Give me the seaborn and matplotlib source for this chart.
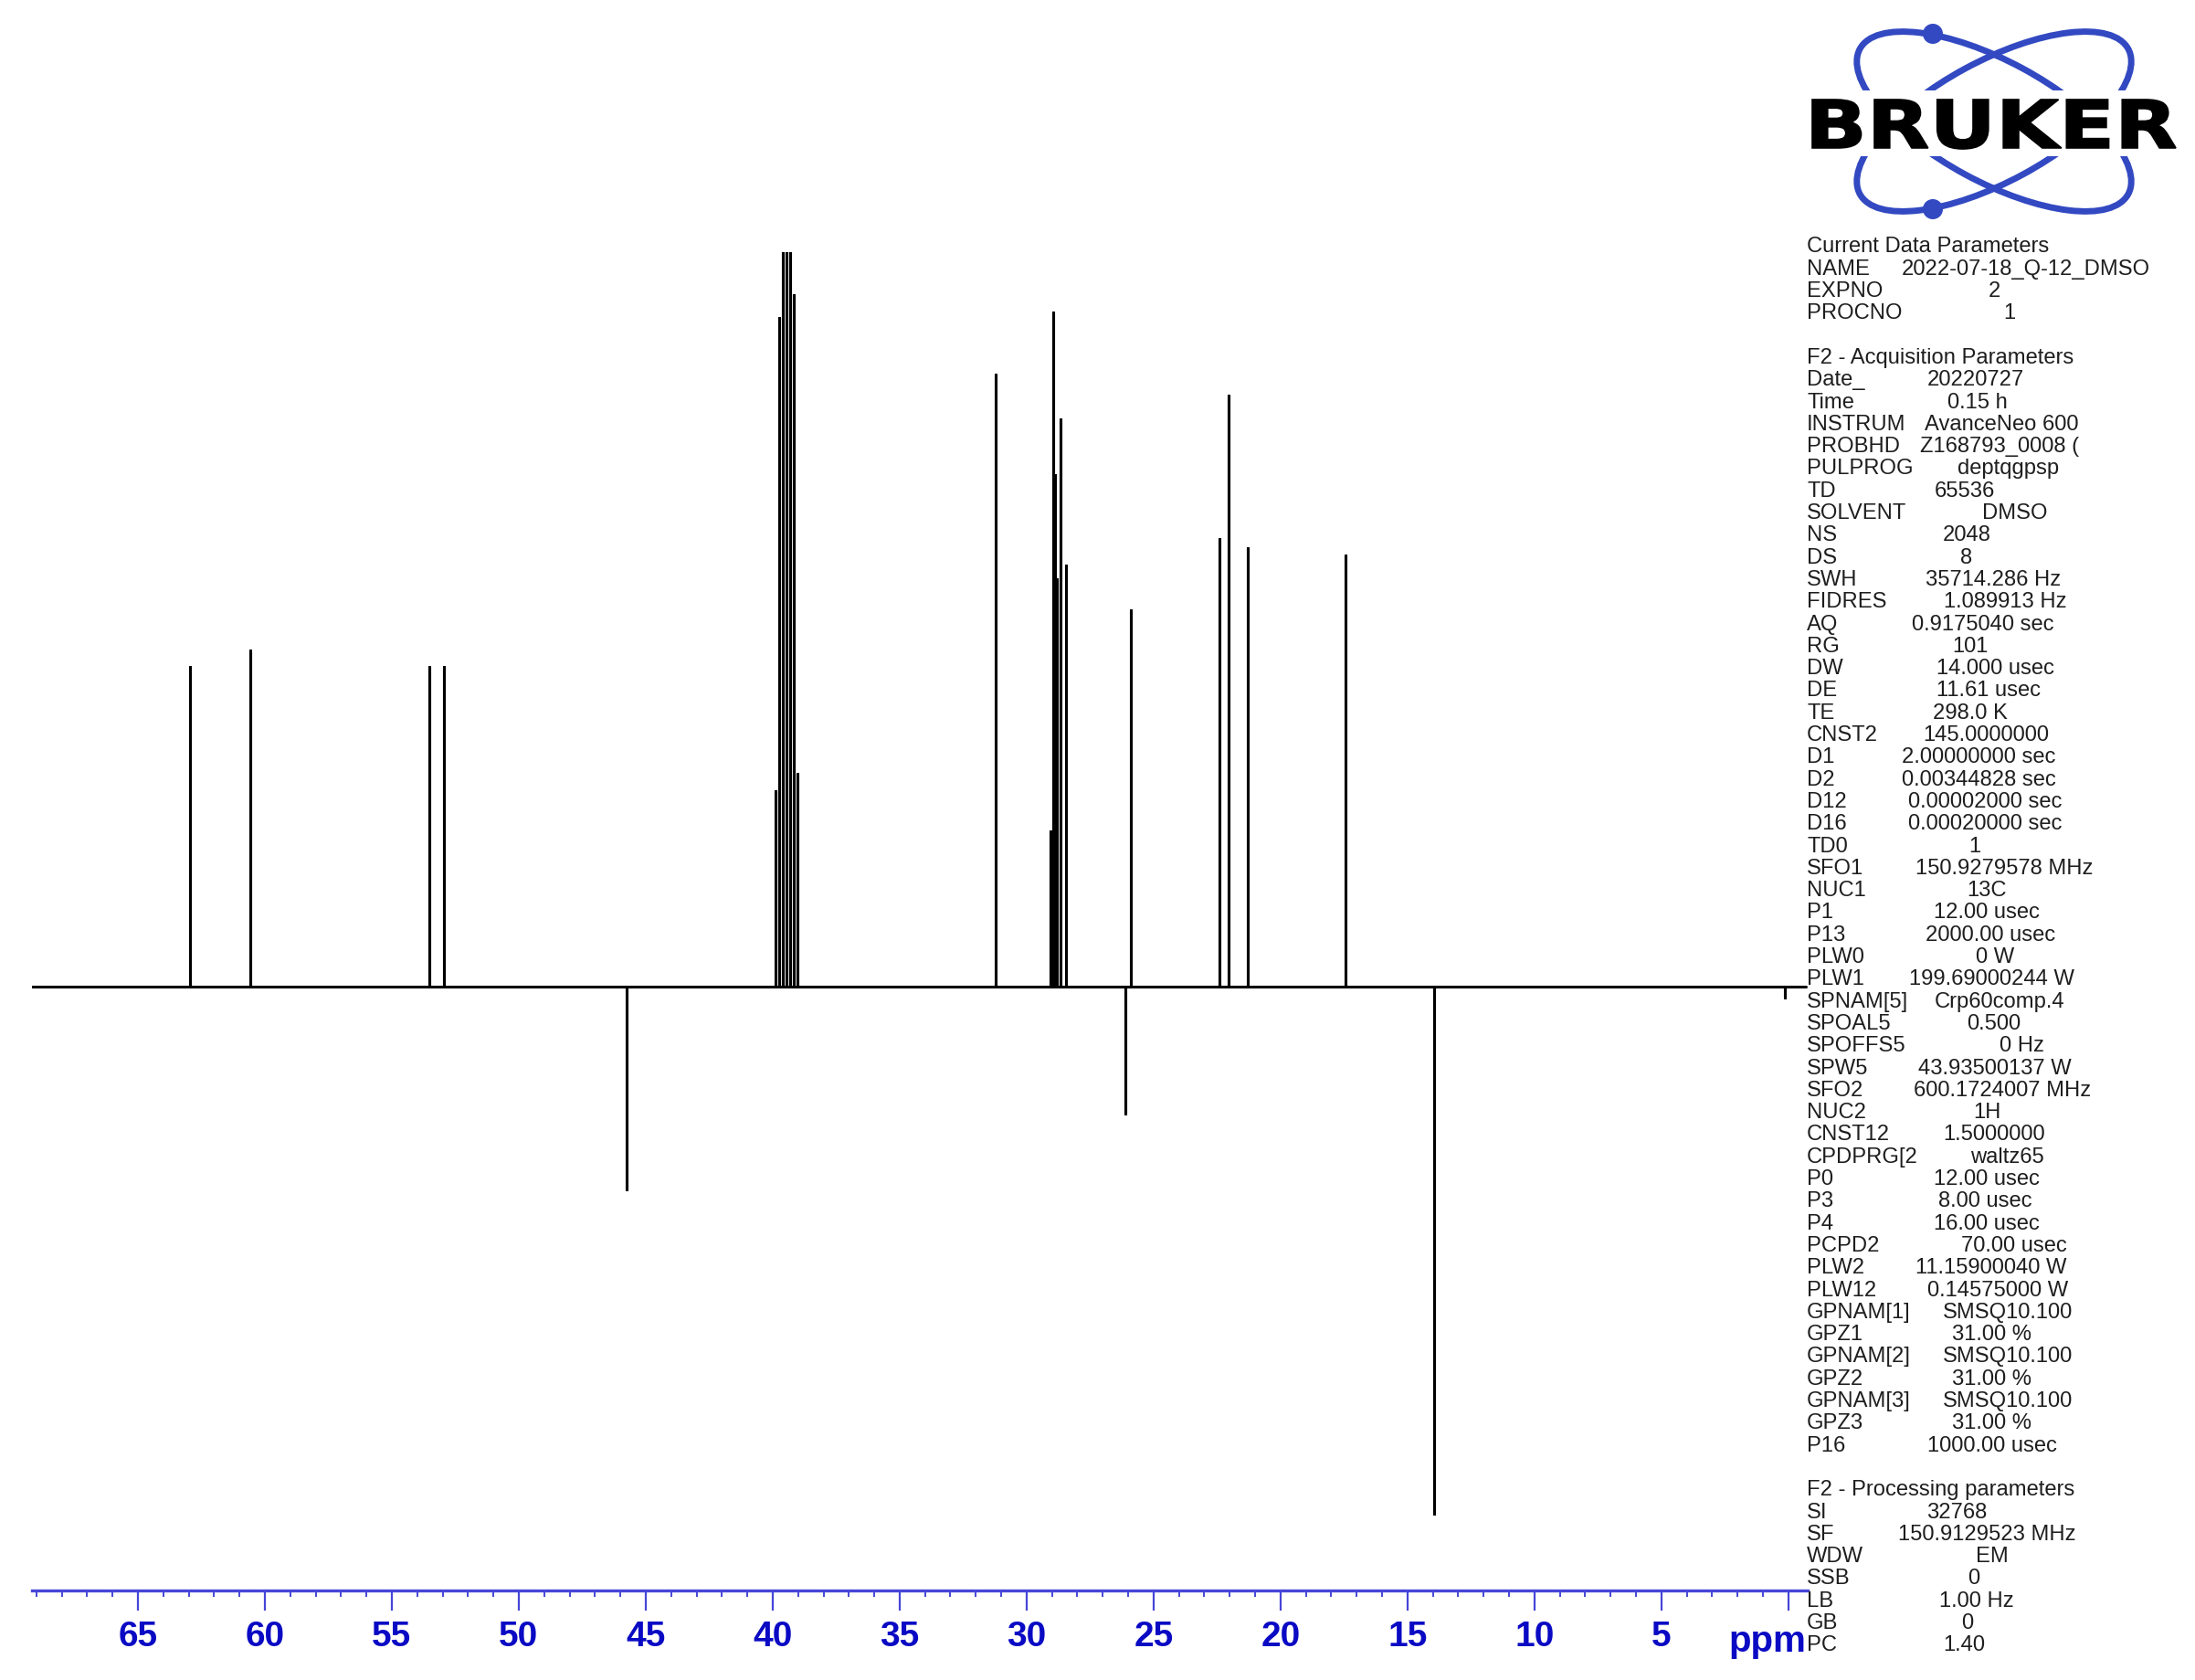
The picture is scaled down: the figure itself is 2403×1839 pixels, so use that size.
import pandas as pd
import matplotlib
matplotlib.use("Agg")
import matplotlib.pyplot as plt
import seaborn as sns
from matplotlib.patches import Ellipse, Circle, Rectangle, PathPatch
from matplotlib.textpath import TextPath
from matplotlib.font_manager import FontProperties
from matplotlib.transforms import Affine2D
from matplotlib.ticker import MultipleLocator

# --- spectrum data (13C DEPTQ, DMSO-d6), peak positions in ppm, intensity in arbitrary units ---
peak_ppm = [62.94, 60.58, 53.51, 52.96, 45.74,
            39.88, 39.74, 39.60, 39.46, 39.32, 39.18, 39.04,
            31.22, 29.06, 28.97, 28.88, 28.80, 28.66, 28.46,
            26.10, 25.88, 22.41, 22.05, 21.30, 17.44, 13.96, 0.14]
peak_height = [350, 368, 350, 350, -222,
               214, 732, 1450, 1700, 1450, 757, 233,
               670, 170, 738, 560, 446, 621, 461,
               -139, 412, 490, 647, 480, 472, -577, -12]
window_start = 69.17
window_end = -0.70

tick_values = [0, 5, 10, 15, 20, 25, 30, 35, 40, 45, 50, 55, 60, 65]
tick_labels = ["", "5", "10", "15", "20", "25", "30", "35", "40", "45", "50", "55", "60", "65"]

param_labels = [
    "Current Data Parameters", "NAME", "EXPNO", "PROCNO", "",
    "F2 - Acquisition Parameters", "Date_", "Time", "INSTRUM", "PROBHD", "PULPROG", "TD",
    "SOLVENT", "NS", "DS", "SWH", "FIDRES", "AQ", "RG", "DW", "DE", "TE", "CNST2",
    "D1", "D2", "D12", "D16", "TD0", "SFO1", "NUC1", "P1", "P13", "PLW0", "PLW1",
    "SPNAM[5]", "SPOAL5", "SPOFFS5", "SPW5", "SFO2", "NUC2", "CNST12", "CPDPRG[2",
    "P0", "P3", "P4", "PCPD2", "PLW2", "PLW12", "GPNAM[1]", "GPZ1", "GPNAM[2]", "GPZ2",
    "GPNAM[3]", "GPZ3", "P16", "",
    "F2 - Processing parameters", "SI", "SF", "WDW", "SSB", "LB", "GB", "PC",
]
param_values = [
    "", "2022-07-18_Q-12_DMSO", "2", "1", "",
    "", "20220727", "0.15 h", "AvanceNeo 600", "Z168793_0008 (", "deptqgpsp", "65536",
    "DMSO", "2048", "8", "35714.286 Hz", "1.089913 Hz", "0.9175040 sec", "101",
    "14.000 usec", "11.61 usec", "298.0 K", "145.0000000",
    "2.00000000 sec", "0.00344828 sec", "0.00002000 sec", "0.00020000 sec", "1",
    "150.9279578 MHz", "13C", "12.00 usec", "2000.00 usec", "0 W", "199.69000244 W",
    "Crp60comp.4", "0.500", "0 Hz", "43.93500137 W", "600.1724007 MHz", "1H",
    "1.5000000", "waltz65",
    "12.00 usec", "8.00 usec", "16.00 usec", "70.00 usec", "11.15900040 W", "0.14575000 W",
    "SMSQ10.100", "31.00 %", "SMSQ10.100", "31.00 %", "SMSQ10.100", "31.00 %",
    "1000.00 usec", "",
    "", "32768", "150.9129523 MHz", "EM", "0", "1.00 Hz", "0", "1.40",
]
# left edge of each value, in pixels of the output image (layout)
value_left_px = [
    0, 2082, 2177, 2193, 0,
    0, 2110, 2132, 2107, 2102, 2143, 2118,
    2170, 2127, 2146, 2108, 2128, 2093, 2137, 2120, 2120, 2116, 2105,
    2082, 2082, 2089, 2089, 2155, 2097, 2153, 2117, 2108, 2163, 2090,
    2118, 2153, 2189, 2100, 2095, 2160, 2127, 2157,
    2117, 2122, 2117, 2147, 2097, 2110, 2127, 2137, 2127, 2137,
    2127, 2137, 2110, 0,
    0, 2109, 2078, 2163, 2154, 2123, 2147, 2127,
]

# --- build the stick trace for the library ---
rows = [(window_start, 0.0)]
for p, h in sorted(zip(peak_ppm, peak_height), key=lambda t: -t[0]):
    rows += [(p, 0.0), (p, h), (p, 0.0)]
rows.append((window_end, 0.0))
spec = pd.DataFrame(rows, columns=["ppm", "intensity"])

sns.set_style("white")
plt.rcParams["font.family"] = ["Liberation Sans", "DejaVu Sans"]

W, H = 2403, 1840
axis_blue = "#4646d8"
label_blue = "#0a0ac4"
logo_blue = "#3349c2"
narrow = ["Liberation Sans Narrow", "Liberation Sans", "DejaVu Sans"]


def fx(px):
    return px / W


def fy(py):
    return 1 - py / H


fig = plt.figure(figsize=(W / 100, H / 100), dpi=100)

# main spectrum axes
ax = fig.add_axes([fx(35), fy(1742), fx(1979) - fx(35), fy(277) - fy(1742)])
sns.lineplot(data=spec, x="ppm", y="intensity", sort=False, estimator=None,
             color="black", linewidth=2.2, ax=ax)
ax.set_xlim(69.17, -0.76)
ax.set_ylim(-661, 804)
for side in ["top", "left", "right"]:
    ax.spines[side].set_visible(False)
ax.spines["bottom"].set_color(axis_blue)
ax.spines["bottom"].set_linewidth(2.4)
ax.set_yticks([])
ax.set_xticks(tick_values)
ax.set_xticklabels(tick_labels, fontweight="bold", family=narrow)
ax.xaxis.set_minor_locator(MultipleLocator(1))
ax.tick_params(axis="x", which="both", bottom=True, top=False)
ax.tick_params(axis="x", which="major", direction="out", length=16, width=1.6,
               color=axis_blue, labelcolor=label_blue, labelsize=28, pad=7)
ax.tick_params(axis="x", which="minor", direction="out", length=5, width=1.4,
               color=axis_blue)
ax.set_xlabel("")
ax.set_ylabel("")
ax.set_facecolor("white")

fig.text(fx(1977), fy(1808), "ppm", ha="right", va="baseline", fontsize=29,
         fontweight="bold", color=label_blue, family=narrow)

# acquisition / processing parameters
for i, (lab, val, vx) in enumerate(zip(param_labels, param_values, value_left_px)):
    base = 268 + 8.5 + i * 24.3
    if lab:
        fig.text(fx(1978), fy(base), lab, ha="left", va="baseline",
                 fontsize=17.1, color="#1e1e1e")
    if val:
        fig.text(fx(vx), fy(base), val, ha="left", va="baseline",
                 fontsize=17.1, color="#1e1e1e")

# Bruker logo
lax = fig.add_axes([fx(1960), fy(260), fx(443), 260 / H])
lax.set_xlim(0, 443)
lax.set_ylim(260, 0)
lax.axis("off")
for ang in (28.4, -28.4):
    lax.add_patch(Ellipse((223, 134), width=334, height=132, angle=ang,
                          fill=False, edgecolor=logo_blue, linewidth=5, zorder=1))
lax.add_patch(Rectangle((26, 100), 402, 72, facecolor="white", edgecolor="none", zorder=2))
for cx, cy in [(156, 38), (156, 230)]:
    lax.add_patch(Circle((cx, cy), 11, facecolor=logo_blue, edgecolor="none", zorder=3))
tp = TextPath((0, 0), "BRUKER", size=100,
              prop=FontProperties(family="DejaVu Sans", weight="bold"))
bb = tp.get_extents()
tr = Affine2D().translate(-bb.x0, -bb.y0).scale(398 / bb.width, -54 / bb.height).translate(24, 164)
lax.add_patch(PathPatch(tr.transform_path(tp), facecolor="black", edgecolor="black",
                        linewidth=1.2, zorder=4))

fig.savefig("out.png", dpi=100, facecolor="white")
